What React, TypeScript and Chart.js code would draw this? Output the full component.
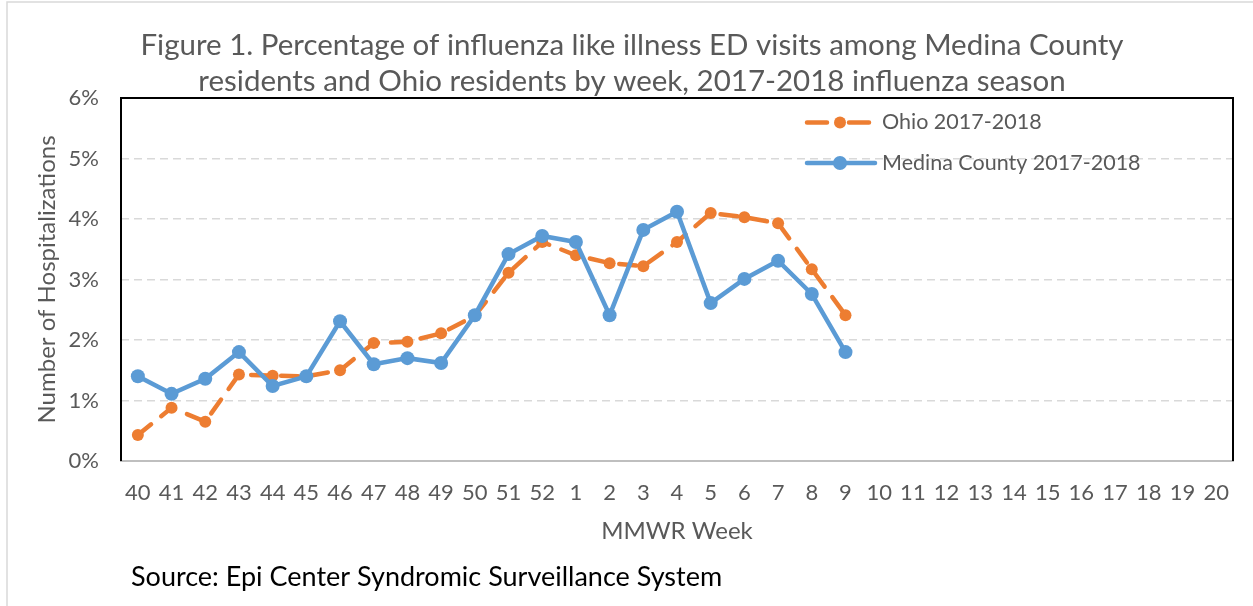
import React, { useEffect, useRef } from 'react';
import { Chart, registerables } from 'chart.js';

Chart.register(...registerables);

const weeks: string[] = [
  '40', '41', '42', '43', '44', '45', '46', '47', '48', '49', '50', '51', '52',
  '1', '2', '3', '4', '5', '6', '7', '8', '9', '10', '11', '12', '13', '14',
  '15', '16', '17', '18', '19', '20',
];

const medinaValues: number[] = [
  1.40, 1.11, 1.36, 1.80, 1.24, 1.40, 2.31, 1.60, 1.70, 1.62, 2.41, 3.42, 3.72,
  3.62, 2.41, 3.82, 4.12, 2.61, 3.01, 3.31, 2.76, 1.80,
];

const ohioValues: number[] = [
  0.43, 0.88, 0.65, 1.43, 1.41, 1.40, 1.50, 1.95, 1.97, 2.11, 2.40, 3.11, 3.62,
  3.40, 3.27, 3.22, 3.62, 4.10, 4.03, 3.93, 3.17, 2.41,
];

const yTicks: number[] = [0, 1, 2, 3, 4, 5, 6];

const titleLines: string[] = [
  'Figure 1. Percentage of influenza like illness ED visits among Medina County',
  'residents and Ohio residents by week, 2017-2018 influenza season',
];
const medinaLabel = 'Medina County 2017-2018';
const ohioLabel = 'Ohio 2017-2018';
const xTitle = 'MMWR Week';
const yTitle = 'Number of Hospitalizations';
const sourceText = 'Source: Epi Center Syndromic Surveillance System';

const FONT = 'Lato, "Noto Sans", sans-serif';
const GREY = '#595959';
const BLUE = '#5B9BD5';
const ORANGE = '#ED7D31';

const decorPlugin = {
  id: 'decor',
  beforeDraw(chart: any) {
    const { ctx, width, height } = chart;
    ctx.save();
    ctx.fillStyle = '#ffffff';
    ctx.fillRect(0, 0, width, height);
    ctx.strokeStyle = '#d9d9d9';
    ctx.lineWidth = 1.5;
    ctx.strokeRect(7, 2, width + 20, height + 20);
    ctx.restore();
  },
  afterDraw(chart: any) {
    const { ctx, chartArea: a } = chart;
    ctx.save();
    // plot border
    ctx.strokeStyle = '#000000';
    ctx.lineWidth = 2;
    ctx.beginPath();
    ctx.moveTo(a.left, a.bottom);
    ctx.lineTo(a.left, a.top);
    ctx.lineTo(a.right, a.top);
    ctx.lineTo(a.right, a.bottom);
    ctx.stroke();

    // title
    ctx.fillStyle = GREY;
    ctx.font = `29.5px ${FONT}`;
    ctx.textAlign = 'center';
    ctx.textBaseline = 'middle';
    titleLines.forEach((t, i) => ctx.fillText(t, 632, 45 + i * 36));

    // legend
    const lx = a.right - 428;
    const ly1 = a.top + 24.5;
    const ly2 = a.top + 65;
    ctx.lineCap = 'round';
    ctx.lineWidth = 4.5;
    // Ohio
    ctx.strokeStyle = ORANGE;
    ctx.setLineDash([20, 22]);
    ctx.beginPath();
    ctx.moveTo(lx + 2, ly1);
    ctx.lineTo(lx + 64, ly1);
    ctx.stroke();
    ctx.setLineDash([]);
    ctx.fillStyle = ORANGE;
    ctx.beginPath();
    ctx.arc(lx + 35, ly1, 6, 0, Math.PI * 2);
    ctx.fill();
    // Medina
    ctx.strokeStyle = BLUE;
    ctx.beginPath();
    ctx.moveTo(lx + 2, ly2);
    ctx.lineTo(lx + 70, ly2);
    ctx.stroke();
    ctx.fillStyle = BLUE;
    ctx.beginPath();
    ctx.arc(lx + 35, ly2, 7, 0, Math.PI * 2);
    ctx.fill();

    ctx.fillStyle = GREY;
    ctx.font = `21.5px ${FONT}`;
    ctx.textAlign = 'left';
    ctx.textBaseline = 'middle';
    ctx.fillText(ohioLabel, lx + 77, ly1);
    ctx.fillText(medinaLabel, lx + 77, ly2);

    // source
    ctx.fillStyle = '#000000';
    ctx.font = `27px ${FONT}`;
    ctx.fillText(sourceText, 131, 577);
    ctx.restore();
  },
};

export default function App() {
  const ref = useRef<HTMLCanvasElement | null>(null);

  useEffect(() => {
    if (!ref.current) return;
    const chart = new Chart(ref.current, {
      type: 'line',
      data: {
        labels: weeks,
        datasets: [
          {
            label: medinaLabel,
            data: medinaValues,
            borderColor: BLUE,
            backgroundColor: BLUE,
            borderWidth: 4.5,
            pointRadius: 7,
            pointHoverRadius: 7,
            pointBackgroundColor: BLUE,
            pointBorderWidth: 0,
            tension: 0,
          },
          {
            label: ohioLabel,
            data: ohioValues,
            borderColor: ORANGE,
            backgroundColor: ORANGE,
            borderWidth: 4.5,
            borderDash: [17, 13],
            borderCapStyle: 'round',
            pointRadius: 6,
            pointHoverRadius: 6,
            pointBackgroundColor: ORANGE,
            pointBorderWidth: 0,
            tension: 0,
          },
        ],
      },
      options: {
        animation: false,
        responsive: false,
        devicePixelRatio: 1,
        layout: { padding: { top: 98, right: 20, left: 0, bottom: 0 } },
        plugins: {
          legend: { display: false },
          title: { display: false },
          tooltip: { enabled: false },
        },
        scales: {
          x: {
            type: 'category',
            offset: true,
            grid: { display: false, drawTicks: false },
            border: { display: true, color: '#bfbfbf', width: 2 },
            ticks: {
              color: GREY,
              font: { family: FONT, size: 22 },
              padding: 19,
              maxRotation: 0,
              autoSkip: false,
            },
            title: {
              display: true,
              text: xTitle,
              color: GREY,
              font: { family: FONT, size: 24 },
              padding: { top: 0, bottom: 60.5 },
            },
            afterFit(scale: any) {
              scale.height = 145;
            },
          },
          y: {
            min: 0,
            max: 6,
            afterBuildTicks(scale: any) {
              scale.ticks = yTicks.map((v) => ({ value: v }));
            },
            ticks: {
              color: GREY,
              font: { family: FONT, size: 22 },
              padding: 22,
              callback: (v: any) => `${v}%`,
            },
            grid: { color: '#d9d9d9', lineWidth: 1.5, drawTicks: false },
            border: { display: false, dash: [8, 5] },
            title: {
              display: true,
              text: yTitle,
              color: GREY,
              font: { family: FONT, size: 24 },
              padding: { top: 32.5, bottom: 0 },
            },
            afterFit(scale: any) {
              scale.width = 121;
            },
          },
        },
      },
      plugins: [decorPlugin],
    } as any);
    return () => chart.destroy();
  }, []);

  return (
    <div style={{ position: 'absolute', left: 0, top: 0, width: 1253, height: 606, background: '#fff' }}>
      <canvas ref={ref} width={1253} height={606} style={{ display: 'block' }} />
    </div>
  );
}
